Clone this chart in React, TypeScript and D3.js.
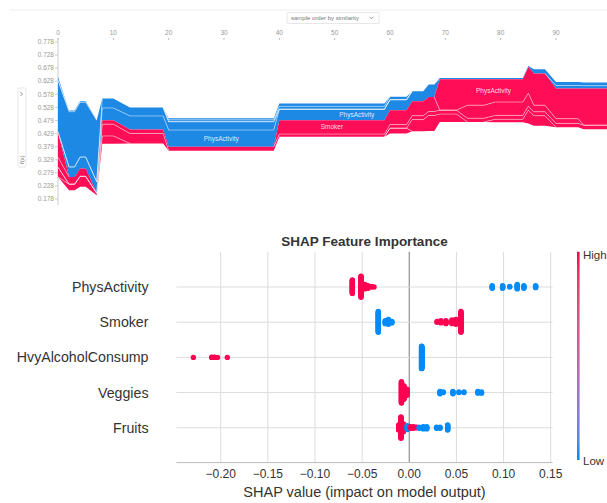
import React from "react";
import * as d3 from "d3";

// ---------------- Force plot data (key samples) ----------------
const forceIdx = [0, 2, 3, 4, 5, 7, 8, 10, 13, 19, 20, 39, 40, 59, 60, 63, 64, 66, 67, 68, 69, 72, 74, 77, 79, 84, 85, 86, 88, 90, 94, 95, 100];
const forceFx = [0.435, 0.263, 0.263, 0.295, 0.295, 0.2, 0.4795, 0.4795, 0.444, 0.444, 0.378, 0.378, 0.4795, 0.4795, 0.518, 0.518, 0.552, 0.552, 0.568, 0.568, 0.636, 0.636, 0.636, 0.636, 0.636, 0.636, 0.683, 0.658, 0.658, 0.6005, 0.6005, 0.6005, 0.6005];
const shapPhysActivity = [0.097, -0.038, -0.038, -0.044, -0.044, -0.044, -0.047, -0.047, -0.052, -0.052, -0.064, -0.064, -0.042, -0.042, -0.04, -0.04, -0.038, -0.038, -0.048, -0.048, 0.118, 0.118, 0.099, 0.099, 0.087, 0.087, 0.1, 0.121, 0.121, 0.115, 0.115, 0.14, 0.14];
const shapSmoker = [0.038, 0.028, 0.028, 0.03, 0.03, 0, -0.036, -0.036, -0.032, -0.032, -0.032, -0.032, 0.053, 0.053, 0.055, 0.055, 0.055, 0.055, 0.055, 0.055, 0, 0, 0.05, 0.05, 0.051, 0.051, 0.05, 0.025, 0.025, 0.018, 0.018, 0, 0];
const shapHvyAlcohol = [-0.197, -0.211, -0.211, -0.209, -0.209, -0.235, 0.015, 0.015, 0.015, 0.015, 0.015, 0.015, 0.01, 0.01, 0.014, 0.014, 0.015, 0.015, 0.015, 0.015, 0.015, 0.015, 0.014, 0.014, 0.015, 0.015, 0.015, 0.015, 0.015, 0.015, 0.015, 0.015, 0.015];
const shapVeggies = [0.037, -0.005, -0.005, -0.004, -0.004, 0, 0.045, 0.045, 0.038, 0.038, -0.007, -0.007, -0.011, -0.011, -0.011, -0.011, 0.045, 0.045, 0.06, 0.06, 0.03, 0.03, 0, 0, 0.011, 0.011, 0.051, 0.039, 0.039, -0.012, -0.012, -0.011, -0.011];
const shapFruits = [-0.013, 0.023, 0.023, 0.04, 0.04, 0.007, 0.03, 0.03, 0, 0, -0.006, -0.006, -0.011, -0.011, 0.02, 0.02, 0, 0, 0, 0, -0.005, -0.005, -0.005, -0.005, -0.005, -0.005, -0.004, -0.016, -0.016, -0.013, -0.013, -0.012, -0.012];

const forceXTicks = [0, 10, 20, 30, 40, 50, 60, 70, 80, 90];
const forceYTicks = [0.1785, 0.2285, 0.2785, 0.3285, 0.3785, 0.4285, 0.4785, 0.5285, 0.5785, 0.6285, 0.6785, 0.7285, 0.7785];
const forceYLabels = ["0.178", "0.228", "0.279", "0.329", "0.379", "0.429", "0.479", "0.528", "0.578", "0.628", "0.678", "0.728", "0.778"];
const forceLabels: { name: string; feature: number; at: number; side: number }[] = [
  { name: "PhysActivity", feature: 0, at: 29.5, side: -1 },
  { name: "Smoker", feature: 1, at: 49.5, side: 1 },
  { name: "PhysActivity", feature: 0, at: 54, side: -1 },
  { name: "PhysActivity", feature: 0, at: 78.7, side: 1 },
];

// ---------------- Summary (beeswarm) data ----------------
const featureNames = ["PhysActivity", "Smoker", "HvyAlcoholConsump", "Veggies", "Fruits"];
// [shap value, number of samples, high feature value (1) / low (0)]
const physActivityGroups: number[][] = [[-0.0604, 22, 1], [-0.0512, 34, 1], [-0.047, 8, 1], [-0.0438, 5, 1], [-0.04, 2, 1], [-0.0374, 1, 1], [0.088, 5, 0], [0.099, 5, 0], [0.1065, 2, 0], [0.1145, 8, 0], [0.1215, 5, 0], [0.134, 4, 0]];
const smokerGroups: number[][] = [[-0.0329, 30, 0], [-0.0255, 5, 0], [-0.0222, 8, 0], [-0.0185, 3, 0], [0.0294, 2, 1], [0.0336, 4, 1], [0.0389, 5, 1], [0.0453, 6, 1], [0.0495, 8, 1], [0.0548, 30, 1]];
const hvyAlcoholGroups: number[][] = [[-0.229, 1, 1], [-0.2095, 2, 1], [-0.2066, 2, 1], [-0.2034, 1, 1], [-0.193, 1, 1], [0.0131, 93, 0]];
const veggiesGroups: number[][] = [[-0.0083, 40, 1], [-0.0056, 25, 1], [-0.0024, 12, 1], [0.0326, 5, 0], [0.036, 2, 0], [0.0463, 5, 0], [0.0527, 2, 0], [0.058, 2, 0], [0.0728, 4, 0], [0.0766, 3, 0]];
const fruitsGroups: number[][] = [[-0.0112, 10, 1], [-0.0088, 40, 1], [-0.0062, 15, 1], [-0.0021, 8, 0], [0.0013, 4, 1], [0.0045, 4, 1], [0.0076, 2, 1], [0.0106, 3, 0], [0.0148, 5, 0], [0.0185, 5, 0], [0.029, 3, 0], [0.0326, 3, 0], [0.0407, 10, 0]];
const summaryGroups = [physActivityGroups, smokerGroups, hvyAlcoholGroups, veggiesGroups, fruitsGroups];
const summaryTicks = [-0.2, -0.15, -0.1, -0.05, 0, 0.05, 0.1, 0.15];

const RED_F = "#ff0d57";
const BLUE_F = "#1e88e5";
const RED = "#ff0052";
const BLUE = "#008bfb";
const FONT = "'Liberation Sans', Arial, Helvetica, sans-serif";

function swarm(vals: number[], spread: number) {
  const n = vals.length;
  const mn = d3.min(vals) as number;
  const mx = d3.max(vals) as number;
  const quant = vals.map((v) => Math.round((100 * (v - mn)) / (mx - mn + 1e-8)));
  const inds = d3.range(n).sort((a, b) => quant[a] - quant[b] || a - b);
  const ys = new Array(n).fill(0);
  let layer = 0;
  let last = -1;
  for (const i of inds) {
    if (quant[i] !== last) layer = 0;
    ys[i] = Math.ceil(layer / 2) * ((layer % 2) * 2 - 1);
    layer++;
    last = quant[i];
  }
  const m = (d3.max(ys) as number) + 1;
  return ys.map((y) => (y * spread) / m);
}

export default function App() {
  // ---------- force plot ----------
  const xF = d3.scaleLinear().domain([0, 90]).range([58, 556]);
  const yF = d3.scaleLinear().domain([0.1785, 0.7785]).range([199, 42]);
  const shaps = [shapPhysActivity, shapSmoker, shapHvyAlcohol, shapVeggies, shapFruits];
  const K = forceIdx.length;
  const posBands: number[][][] = shaps.map(() => []);
  const negBands: number[][][] = shaps.map(() => []);
  for (let k = 0; k < K; k++) {
    let pos = forceFx[k];
    let neg = forceFx[k];
    shaps.forEach((s, f) => {
      const v = s[k];
      if (v > 0) {
        posBands[f].push([pos, pos - v]);
        pos -= v;
      } else posBands[f].push([pos, pos]);
      if (v < 0) {
        negBands[f].push([neg, neg - v]);
        neg -= v;
      } else negBands[f].push([neg, neg]);
    });
  }
  const area = (band: number[][]) =>
    d3
      .area<number>()
      .x((k) => xF(forceIdx[k]))
      .y0((k) => yF(band[k][0]))
      .y1((k) => yF(band[k][1]))(d3.range(K)) as string;

  const separators = (bands: number[][][]) => {
    const out: string[] = [];
    for (let j = 0; j < bands.length - 1; j++) {
      const inside = (k: number) => {
        let before = 0;
        let after = 0;
        bands.forEach((b, f) => {
          const t = Math.abs(b[k][1] - b[k][0]);
          if (f <= j) before += t;
          else after += t;
        });
        return before > 1e-9 && after > 1e-9;
      };
      const p = d3.path();
      for (let k = 0; k < K - 1; k++) {
        if (inside(k) || inside(k + 1)) {
          p.moveTo(xF(forceIdx[k]), yF(bands[j][k][1]));
          p.lineTo(xF(forceIdx[k + 1]), yF(bands[j][k + 1][1]));
        }
      }
      out.push(p.toString());
    }
    return out;
  };
  const posSeps = separators(posBands);
  const negSeps = separators(negBands);

  const labelPos = (l: { feature: number; at: number; side: number }) => {
    const bands = l.side > 0 ? posBands : negBands;
    let k = 0;
    while (k < K - 2 && forceIdx[k + 1] < l.at) k++;
    const t = (l.at - forceIdx[k]) / (forceIdx[k + 1] - forceIdx[k]);
    const c0 = (bands[l.feature][k][0] + bands[l.feature][k][1]) / 2;
    const c1 = (bands[l.feature][k + 1][0] + bands[l.feature][k + 1][1]) / 2;
    return { x: xF(l.at), y: yF(c0 + (c1 - c0) * t) };
  };

  // ---------- summary plot ----------
  const xS = d3.scaleLinear().domain([-0.247, 0.152]).range([176.4, 552.6]);
  const rowY = d3.scaleLinear().domain([0, 4]).range([287, 427.8]);
  const plotTop = 251.8;
  const plotBottom = 462.6;
  const points: { x: number; y: number; hi: number }[] = [];
  summaryGroups.forEach((groups, r) => {
    const vals: number[] = [];
    const his: number[] = [];
    groups.forEach(([v, n, hi]) => {
      for (let i = 0; i < n; i++) {
        vals.push(v);
        his.push(hi);
      }
    });
    const offs = swarm(vals, 11.5);
    vals.forEach((v, i) => points.push({ x: xS(v), y: rowY(r) - offs[i], hi: his[i] }));
  });
  const cbar = d3.interpolateLab(BLUE, RED);
  const cbStops = d3.range(0, 1.0001, 0.1);

  return (
    <div style={{ position: "absolute", left: 0, top: 0 }}>
      <svg width={607} height={503} style={{ display: "block", fontFamily: FONT }}>
        <defs>
          <linearGradient id="cb" x1="0" y1="1" x2="0" y2="0">
            {cbStops.map((s) => (
              <stop key={s} offset={s} stopColor={cbar(s)} />
            ))}
          </linearGradient>
        </defs>
        <rect width={607} height={503} fill="#fff" />

        {/* ---------- Force plot ---------- */}
        <line x1={10} x2={607} y1={10} y2={10} stroke="#eee" />
        <rect x={287} y={12.5} width={92} height={11} fill="#fff" stroke="#ddd" strokeWidth={0.7} rx={1} />
        <text x={291} y={20} fontSize={6} fill="#777">sample order by similarity</text>
        <path d="M369.5,16.8 L371.5,18.8 L373.5,16.8" fill="none" stroke="#777" strokeWidth={0.8} />

        <rect x={18} y={88} width={8} height={79} fill="#fff" stroke="#ddd" strokeWidth={0.7} rx={1} />
        <path d="M20.5,92 L22.5,94 L20.5,96" fill="none" stroke="#777" strokeWidth={0.8} />
        <text transform="translate(24.2,164) rotate(-90)" fontSize={6} fill="#777">f(x)</text>

        {forceXTicks.map((t) => (
          <g key={t}>
            <text x={xF(t)} y={35} fontSize={6.5} fill="#999" textAnchor="middle">{t}</text>
            <line x1={xF(t)} x2={xF(t)} y1={38} y2={40} stroke="#bbb" />
          </g>
        ))}
        <line x1={58} x2={58} y1={38} y2={205} stroke="#ccc" />
        {forceYTicks.map((t, i) => (
          <g key={t}>
            <text x={54} y={yF(t) + 2.2} fontSize={6.5} fill="#999" textAnchor="end">{forceYLabels[i]}</text>
            <line x1={55} x2={58} y1={yF(t)} y2={yF(t)} stroke="#ccc" />
          </g>
        ))}

        {negBands.map((b, f) => (
          <path key={"n" + f} d={area(b)} fill={BLUE_F} />
        ))}
        {posBands.map((b, f) => (
          <path key={"p" + f} d={area(b)} fill={RED_F} />
        ))}
        {negSeps.map((d, i) => (
          <path key={"ns" + i} d={d} fill="none" stroke="#fff" strokeOpacity={0.45} strokeWidth={1} />
        ))}
        {posSeps.map((d, i) => (
          <path key={"ps" + i} d={d} fill="none" stroke="#fff" strokeOpacity={0.45} strokeWidth={1} />
        ))}
        {forceLabels.map((l, i) => {
          const p = labelPos(l);
          return (
            <text key={i} x={p.x} y={p.y + 2.3} fontSize={6.5} fill="#fff" fillOpacity={0.85} textAnchor="middle">
              {l.name}
            </text>
          );
        })}

        {/* ---------- Summary plot ---------- */}
        <text x={364.5} y={246} fontSize={13.5} fontWeight="bold" fill="#333" textAnchor="middle">SHAP Feature Importance</text>
        {summaryTicks.map((t) => (
          <line key={t} x1={xS(t)} x2={xS(t)} y1={plotTop} y2={plotBottom} stroke={t === 0 ? "#999" : "#dcdcdc"} strokeWidth={t === 0 ? 1.3 : 1} />
        ))}
        {featureNames.map((f, r) => (
          <g key={f}>
            <line x1={176.4} x2={552.6} y1={rowY(r)} y2={rowY(r)} stroke="#dcdcdc" />
            <text x={148.5} y={rowY(r) + 5} fontSize={14.2} fill="#333" textAnchor="end">{f}</text>
          </g>
        ))}
        <line x1={176.4} x2={552.6} y1={plotBottom} y2={plotBottom} stroke="#bbb" />
        {summaryTicks.map((t) => (
          <text key={t} x={xS(t)} y={477.5} fontSize={12} fill="#333" textAnchor="middle">
            {d3.format(".2f")(t).replace("-", "\u2212")}
          </text>
        ))}
        <text x={364.5} y={497} fontSize={14.5} fill="#333" textAnchor="middle">SHAP value (impact on model output)</text>

        {points.map((p, i) => (
          <circle key={i} cx={p.x} cy={p.y} r={2.7} fill={p.hi ? RED : BLUE} />
        ))}

        <rect x={577} y={plotTop} width={2.6} height={460 - plotTop} fill="url(#cb)" />
        <text x={583} y={259} fontSize={11.5} fill="#333">High</text>
        <text x={583} y={465} fontSize={11.5} fill="#333">Low</text>
      </svg>
    </div>
  );
}
